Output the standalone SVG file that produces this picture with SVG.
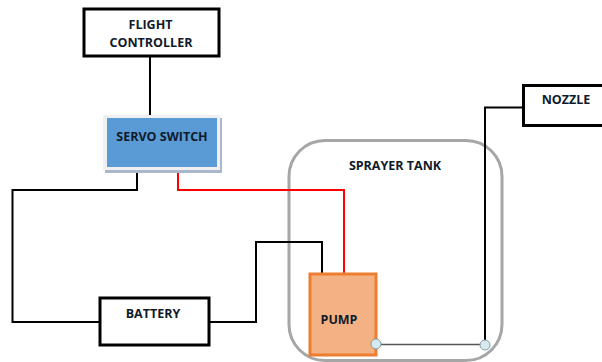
<svg xmlns="http://www.w3.org/2000/svg" width="602" height="362" viewBox="0 0 602 362">
<style>
text{font-family:"Open Sans","Liberation Sans",sans-serif;font-weight:700;font-size:12.500px;fill:#0f1a2a;text-anchor:middle}
.box{fill:#fff;stroke:#000;stroke-width:3}
.w{fill:none;stroke:#000;stroke-width:2}
.dot{fill:#d5ebf0;stroke:#8a9aa0;stroke-width:1}
</style>
<rect width="602" height="362" fill="#fff"/>
<g id="tank"><rect x="289" y="140.500" width="213" height="220" rx="36" fill="#fff" stroke="#a6a6a6" stroke-width="3"/><text x="395" y="170">SPRAYER TANK</text></g>
<g id="connectors">
<path class="w" d="M150 57V116"/>
<path class="w" d="M137 168V190H12.500V322H100"/>
<path class="w" d="M209 322H256V242H322V274"/>
<path d="M178 168V190H344V274" fill="none" stroke="#f00" stroke-width="2"/>
<path d="M376 344.500H485" fill="none" stroke="#555" stroke-width="1.500"/>
<path d="M485 344V107.500H523" fill="none" stroke="#000" stroke-width="2"/>
</g>
<g id="flight-controller"><rect class="box" x="84" y="9" width="135" height="47"/><text x="150.500" y="29">FLIGHT</text><text x="151" y="47">CONTROLLER</text></g>
<g id="servo-switch"><rect x="105" y="118" width="117" height="55" fill="#a9b8cc"/><rect x="103" y="115" width="117" height="55" fill="#f0f0f0"/><rect x="107" y="118" width="110" height="49" fill="#5b9bd5"/><text x="162" y="141">SERVO SWITCH</text></g>
<g id="battery"><rect class="box" x="100" y="298" width="109" height="47"/><text x="153" y="318">BATTERY</text></g>
<g id="pump"><rect x="310" y="274" width="66" height="81" fill="#f4b183" stroke="#ed7d31" stroke-width="3"/><text x="339" y="324">PUMP</text></g>
<g id="nozzle"><rect class="box" x="523.500" y="85.500" width="80" height="40"/><text x="566" y="104">NOZZLE</text></g>
<circle class="dot" cx="376" cy="344" r="5"/>
<circle class="dot" cx="485" cy="345" r="5"/>
</svg>
